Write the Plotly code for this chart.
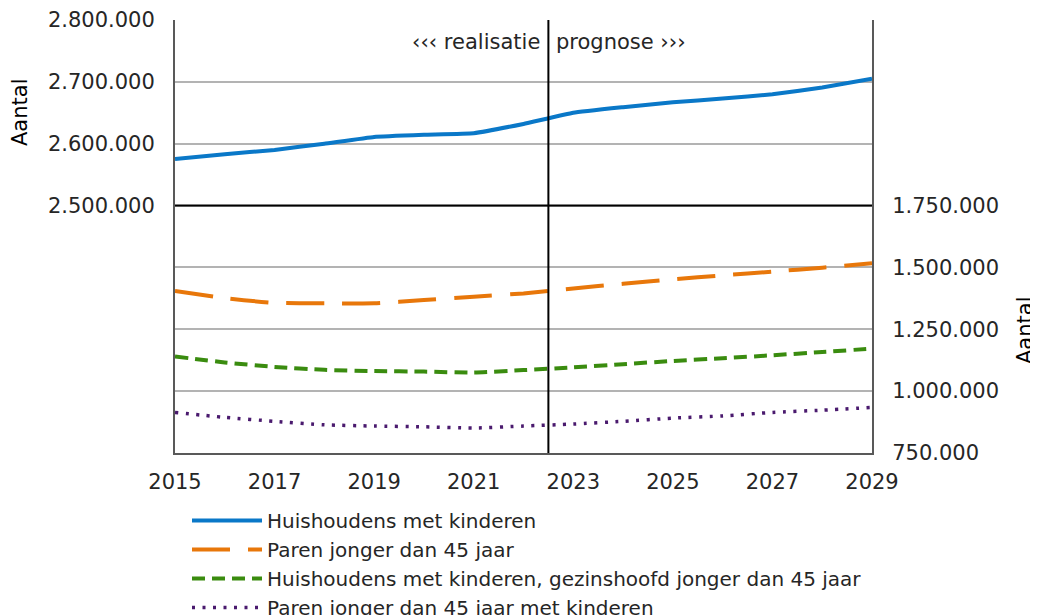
import plotly.graph_objects as go

FONT = "DejaVu Sans, Verdana, sans-serif"

years = list(range(2015, 2030))

huishoudens_kinderen = [2575300, 2583000, 2590000, 2600000, 2611000, 2614500, 2617000,
                        2632000, 2650000, 2659000, 2667000, 2673000, 2680000, 2691000, 2705000]
paren_45 = [1404500, 1376000, 1357000, 1355000, 1355000, 1368000, 1382000,
            1395000, 1415000, 1434000, 1452000, 1468000, 1483000, 1499000, 1517000]
huish_gezinshoofd_45 = [1140000, 1116000, 1098000, 1086000, 1081000, 1079000, 1075000,
                        1085000, 1096000, 1109000, 1122000, 1133000, 1145000, 1158000, 1172000]
paren_45_kinderen = [914000, 894000, 878000, 864000, 859000, 856000, 851000,
                     859000, 867000, 878000, 891000, 900000, 914000, 923000, 934000]

names = [
    "Huishoudens met kinderen",
    "Paren jonger dan 45 jaar",
    "Huishoudens met kinderen, gezinshoofd jonger dan 45 jaar",
    "Paren jonger dan 45 jaar met kinderen",
]

left_ticks = [2100000, 2200000, 2300000, 2400000, 2500000, 2600000, 2700000, 2800000]
left_labels = ["", "", "", "", "2.500.000", "2.600.000", "2.700.000", "2.800.000"]
right_ticks = [750000, 1000000, 1250000, 1500000, 1750000]
right_labels = ["750.000", "1.000.000", "1.250.000", "1.500.000", "1.750.000"]
x_ticks = [2015, 2017, 2019, 2021, 2023, 2025, 2027, 2029]
split_year = 2022.5

fig = go.Figure()
fig.add_trace(go.Scatter(
    x=years, y=huishoudens_kinderen, name=names[0], mode="lines",
    line=dict(color="#0a78c8", width=4, shape="spline", smoothing=0.3),
))
fig.add_trace(go.Scatter(
    x=years, y=paren_45, name=names[1], mode="lines", yaxis="y2",
    line=dict(color="#e8770a", width=4, dash="38px,18px", shape="spline", smoothing=0.6),
))
fig.add_trace(go.Scatter(
    x=years, y=huish_gezinshoofd_45, name=names[2], mode="lines", yaxis="y2",
    line=dict(color="#3a8c0f", width=4, dash="13px,7px", shape="spline", smoothing=0.6),
))
fig.add_trace(go.Scatter(
    x=years, y=paren_45_kinderen, name=names[3], mode="lines", yaxis="y2",
    line=dict(color="#4a1a6e", width=3.5, dash="3px,7.5px", shape="spline", smoothing=0.6),
))

# 2.500.000 baseline and the realisatie/prognose divider
fig.add_shape(type="line", xref="paper", yref="y", x0=0, x1=1, y0=2500000, y1=2500000,
              line=dict(color="#000000", width=2), layer="above")
fig.add_shape(type="line", xref="x", yref="paper", x0=split_year, x1=split_year, y0=0, y1=1,
              line=dict(color="#000000", width=2), layer="above")

fig.add_annotation(x=split_year, y=2765000, xref="x", yref="y", text="‹‹‹ realisatie",
                   showarrow=False, xanchor="right", xshift=-6,
                   font=dict(family=FONT, size=21, color="#262626"))
fig.add_annotation(x=split_year, y=2765000, xref="x", yref="y", text="prognose ›››",
                   showarrow=False, xanchor="left", xshift=6,
                   font=dict(family=FONT, size=21, color="#262626"))

# page body has an 8px margin, so work in figure pixels = screen pixels - 8
W, H = 1030, 607
L, R, T, B = 167, 166, 12, 162
pw, ph = W - L - R, H - T - B


def px(x, y):
    return (x - 8 - L) / pw, 1 - (y - 8 - T) / ph


for sx, sy in [(20, 113), (1025, 331)]:
    ax, ay = px(sx, sy)
    fig.add_annotation(x=ax, y=ay, xref="paper", yref="paper", text="Aantal",
                       showarrow=False, textangle=-90, xanchor="center", yanchor="middle",
                       font=dict(family=FONT, size=21, color="#000000"))

lx, ly = px(187, 501)

fig.update_layout(
    width=W, height=H,
    margin=dict(l=L, r=R, t=T, b=B, autoexpand=False),
    paper_bgcolor="#ffffff", plot_bgcolor="#ffffff",
    font=dict(family=FONT, size=21, color="#262626"),
    showlegend=True,
    legend=dict(
        x=lx, y=ly, xanchor="left", yanchor="top",
        font=dict(family=FONT, size=20, color="#262626"),
        itemwidth=70, tracegroupgap=0, bgcolor="rgba(0,0,0,0)",
    ),
    xaxis=dict(
        range=[2015, 2029], tickvals=x_ticks, showgrid=False, zeroline=False,
        showline=True, linecolor="#595959", linewidth=2,
        ticks="", ticklabelstandoff=9, tickfont=dict(size=21, color="#262626"),
    ),
    yaxis=dict(
        range=[2100000, 2800000], tickvals=left_ticks, ticktext=left_labels,
        showgrid=True, gridcolor="#b3b3b3", gridwidth=2, zeroline=False,
        showline=True, linecolor="#595959", linewidth=2,
        ticks="", ticklabelstandoff=14, tickfont=dict(size=21, color="#262626"),
    ),
    yaxis2=dict(
        range=[750000, 2500000], tickvals=right_ticks, ticktext=right_labels,
        overlaying="y", side="right", showgrid=False, zeroline=False,
        showline=True, linecolor="#595959", linewidth=2,
        ticks="", ticklabelstandoff=14, tickfont=dict(size=21, color="#262626"),
    ),
)

fig.write_html("out.html")
